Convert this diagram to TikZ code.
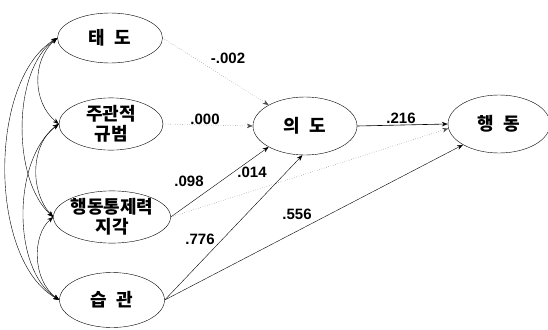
\documentclass[tikz,border=0pt]{standalone}
\usepackage{fontspec}
\setmainfont{Liberation Sans}
\newfontfamily\kr{Noto Sans CJK KR}
\usetikzlibrary{shapes.geometric,arrows.meta}
\begin{document}
\begin{tikzpicture}[x=1pt,y=-1pt,
  var/.style={ellipse,draw,thin,inner sep=0pt,font=\kr\bfseries\fontsize{18}{20}\selectfont,align=center},
  path/.style={-{Stealth[length=6pt,width=4.5pt]},thin},
  weak/.style={path,dotted,black!70},
  corr/.style={{Stealth[length=6pt,width=4.5pt]}-{Stealth[length=6pt,width=4.5pt]},thin},
  coef/.style={font=\bfseries\fontsize{15}{17}\selectfont,inner sep=1pt}]
\useasboundingbox (0,0) rectangle (548,329);
\node[var,minimum width=105pt,minimum height=50pt] (taedo) at (110,38) {태\hspace{9pt}도};
\node[var,minimum width=104pt,minimum height=52pt] (jugwan) at (111,124) {주관적\\규범};
\node[var,minimum width=105pt,minimum height=50pt] (tongje) at (112,217) {행동통제력\\지각};
\node[var,minimum width=105pt,minimum height=55pt] (seupgwan) at (112,300) {습\hspace{9pt}관};
\node[var,minimum width=104pt,minimum height=58pt] (uido) at (305,126) {의\hspace{9pt}도};
\node[var,minimum width=102pt,minimum height=58pt] (haeng) at (499,124) {행\hspace{9pt}동};
% correlations
\draw[corr] (taedo.west) .. controls (32,60) and (32,102) .. (jugwan.west);
\draw[corr] (jugwan.west) .. controls (30,145) and (30,192) .. (tongje.west);
\draw[corr] (tongje.west) .. controls (32,235) and (32,280) .. (seupgwan.west);
\draw[corr] (taedo.west) .. controls (12,70) and (12,180) .. (tongje.west);
\draw[corr] (jugwan.west) .. controls (12,160) and (12,270) .. (seupgwan.west);
\draw[corr] (taedo.west) .. controls (-12,80) and (-12,260) .. (seupgwan.west);
% paths
\draw[weak] (taedo.east) -- (uido.150);
\draw[weak] (jugwan.east) -- (uido.west);
\draw[path] (tongje.east) -- (uido.210);
\draw[weak] (tongje.east) -- (haeng.185);
\draw[path] (seupgwan.east) -- (uido.265);
\draw[path] (seupgwan.east) -- (haeng.210);
\draw[path,semithick] (uido.east) -- (haeng.west);
% coefficients
\node[coef] (c002) at (228,58) {-.002};
\node[coef] (c000) at (205,119) {.000};
\node[coef] (c098) at (189,181) {.098};
\node[coef] (c014) at (252,172) {.014};
\node[coef] (c776) at (200,239) {.776};
\node[coef] (c556) at (297,214) {.556};
\node[coef] (c216) at (401,118) {.216};
\end{tikzpicture}
\end{document}
